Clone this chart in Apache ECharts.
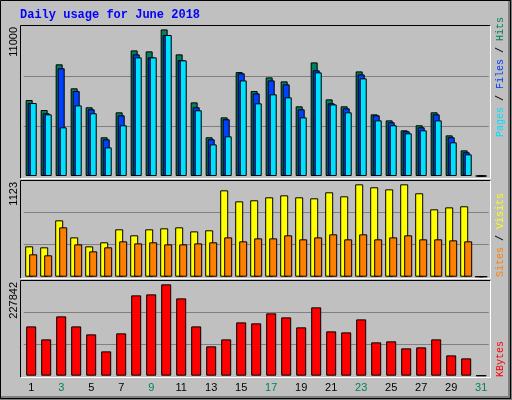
<!DOCTYPE html>
<html><head><meta charset="utf-8">
<script src="https://cdn.jsdelivr.net/npm/echarts@6/dist/echarts.min.js"></script>
<style>html,body{margin:0;padding:0;background:#C0C0C0}#c{width:512px;height:400px}</style>
</head><body><div id="c"></div>
<script>
const days = ['1','2','3','4','5','6','7','8','9','10','11','12','13','14','15','16','17','18','19','20','21','22','23','24','25','26','27','28','29','30','31'];
const weekend = ['2','3','9','10','16','17','23','24','30','31'];
const hits  = [5573,4840,8190,6430,5040,2840,4670,9210,9140,10750,8920,5400,2840,4300,7620,6230,7230,6940,5110,8330,5620,5110,7670,4520,4080,3350,3720,4670,2980,1880,0];
const files = [5350,4600,7900,6230,4890,2690,4450,8920,8700,10340,8500,5040,2690,4160,7530,6060,7010,6720,4890,7750,5330,4960,7450,4450,3940,3280,3570,4520,2840,1740,0];
const pages = [5350,4520,3570,5180,4600,2100,3720,8700,8700,10340,8480,4820,2320,2910,7010,5330,5990,5770,4300,7600,5250,4670,7160,4080,3720,3130,3350,4080,2470,1590,0];
const visits= [369,357,685,478,369,418,576,503,576,588,600,551,564,1050,916,929,965,989,965,953,1026,977,1123,1087,1062,1123,1014,819,843,856,0];
const sites = [272,260,600,393,308,357,430,405,418,393,393,405,418,478,430,466,466,503,454,478,515,454,515,454,478,503,454,454,442,430,0];
const kbytes= [123000,90600,148000,123000,103100,60700,105600,200400,202900,227842,192900,123000,73200,90600,133000,130600,155500,145500,120600,170500,110600,108100,140500,83200,85700,68200,70700,90600,50700,43200,0];
const scaleMax = [11000,1172,237000];
const maxLabels = ['11000','1123','227842'];
const title = 'Daily usage for June 2018';

const grids=[{left:23.7,width:465,top:26,height:150},{left:23.7,width:465,top:180.3,height:96.4},{left:23.7,width:465,top:280.7,height:95}];
const xAxis=[0,1,2].map(i=>({type:'category',gridIndex:i,data:days,axisLine:{show:false},axisTick:{show:false},
  axisLabel:i===2?{show:true,margin:7,fontFamily:'Liberation Sans',fontSize:11,color:(v)=>weekend.includes(v)?'#00805C':'#000'}:{show:false}}));
const yAxis=[0,1,2].map(i=>({type:'value',gridIndex:i,min:0,max:scaleMax[i],interval:scaleMax[i]/3,axisLabel:{show:false},axisLine:{show:false},axisTick:{show:false},
  splitLine:{show:true,showMinLine:false,showMaxLine:false,lineStyle:{color:'#808080',width:1}}}));
const bs=(name,data,color,gi,w,gap)=>({name,type:'bar',data,xAxisIndex:gi,yAxisIndex:gi,barWidth:w,barGap:gap,animation:false,
  itemStyle:{color,borderColor:'#000',borderWidth:1},silent:true});
const series=[bs('Hits',hits,'#00805C',0,7,'-71%'),bs('Files',files,'#0040FF',0,7,'-71%'),bs('Pages',pages,'#00E0FF',0,7,'-71%'),
  bs('Visits',visits,'#FFFF00',1,8,'-50%'),bs('Sites',sites,'#FF8000',1,8,'-50%'),bs('KBytes',kbytes,'#FF0000',2,10,'0%')];

const frame=(x1,y1,x2,y2)=>[
  {type:'line',shape:{x1:x1,y1:y1,x2:x2,y2:y1},style:{stroke:'#000',lineWidth:1}},
  {type:'line',shape:{x1:x1,y1:y1,x2:x1,y2:y2},style:{stroke:'#000',lineWidth:1}},
  {type:'line',shape:{x1:x1,y1:y2,x2:x2,y2:y2},style:{stroke:'#fff',lineWidth:1}},
  {type:'line',shape:{x1:x2,y1:y1,x2:x2,y2:y2},style:{stroke:'#fff',lineWidth:1}}];
const rot=(x,y,text,align,extra)=>Object.assign({type:'text',x,y,rotation:Math.PI/2,style:Object.assign({text,align,verticalAlign:'middle',fontFamily:'Liberation Sans',fontSize:11,fill:'#000'},extra||{})});
const mono={fontFamily:'Liberation Mono',fontSize:10};
const graphic=[
  {type:'rect',shape:{x:508,y:0,width:4,height:400},style:{fill:'#808080'}},
  {type:'rect',shape:{x:0,y:396,width:512,height:4},style:{fill:'#808080'}},
  {type:'rect',shape:{x:0.5,y:0.5,width:510,height:398},style:{fill:null,stroke:'#000',lineWidth:1}},
  ...frame(20.5,25.5,490.5,178.5),...frame(20.5,180.5,490.5,278.5),...frame(20.5,280.5,490.5,377.5),
  {type:'text',x:20,y:15,style:{text:title,fontFamily:'Liberation Mono',fontWeight:'bold',fontSize:12,fill:'#0000FF',verticalAlign:'middle'}},
  rot(14,27,maxLabels[0],'right'),rot(14,182,maxLabels[1],'right'),rot(14,282,maxLabels[2],'right'),
  rot(500,137,'{p|Pages} {s|/} {f|Files} {s|/} {h|Hits}','left',Object.assign({rich:{p:Object.assign({fill:'#00E0FF'},mono),f:Object.assign({fill:'#0040FF'},mono),h:Object.assign({fill:'#00805C'},mono),s:Object.assign({fill:'#000'},mono)}},mono)),
  rot(500,277,'{o|Sites} {s|/} {y|Visits}','left',Object.assign({rich:{o:Object.assign({fill:'#FF8000'},mono),y:Object.assign({fill:'#FFFF00'},mono),s:Object.assign({fill:'#000'},mono)}},mono)),
  rot(500,377,'KBytes','left',Object.assign({fill:'#FF0000'},mono))
];
const chart=echarts.init(document.getElementById('c'));
chart.setOption({backgroundColor:'#C0C0C0',animation:false,grid:grids,xAxis,yAxis,series,graphic});
</script></body></html>
